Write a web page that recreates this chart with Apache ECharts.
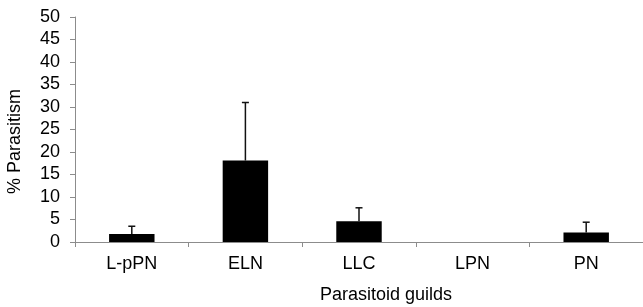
<!DOCTYPE html>
<html>
<head>
<meta charset="utf-8">
<script src="https://cdn.jsdelivr.net/npm/echarts@6/dist/echarts.min.js"></script>
<style>
  html, body { margin: 0; padding: 0; background: #fff; }
  #main { width: 643px; height: 307px; }
</style>
</head>
<body>
<div id="main"></div>
<script>
const categories = ['L-pPN', 'ELN', 'LLC', 'LPN', 'PN']
const parasitism = [1.8, 18.1, 4.6, 0, 2.1]
const errUpper = [1.7, 12.9, 3.0, 0, 2.3]
const yTicks = { min: 0, max: 50, interval: 5 }

const axisGrey = '#8c8c8c'
const font = 'Liberation Sans, Arial, sans-serif'

const errData = categories.map((c, i) => [i, parasitism[i], parasitism[i] + errUpper[i]])

const option = {
  animation: false,
  grid: { left: 75, right: 0, top: 17, bottom: 65, outerBoundsMode: 'none' },
  xAxis: {
    type: 'category',
    data: categories,
    name: 'Parasitoid guilds',
    nameLocation: 'middle',
    nameGap: 44,
    // title sits a bit right of the plot centre
    nameTextStyle: { fontSize: 18, color: '#000', fontFamily: font, verticalAlign: 'top', padding: [0, 0, 0, 54] },
    axisLine: { lineStyle: { color: axisGrey, width: 1 } },
    axisTick: { show: true, length: 5, lineStyle: { color: axisGrey } },
    axisLabel: { fontSize: 18, color: '#000', fontFamily: font, margin: 13 }
  },
  yAxis: {
    type: 'value',
    min: yTicks.min,
    max: yTicks.max,
    interval: yTicks.interval,
    name: '% Parasitism',
    nameLocation: 'middle',
    nameGap: 51,
    nameTextStyle: { fontSize: 18, color: '#000', fontFamily: font, padding: [0, 24, 0, 0] },
    axisLine: { show: true, lineStyle: { color: axisGrey, width: 1 } },
    axisTick: { show: true, length: 5, lineStyle: { color: axisGrey } },
    splitLine: { show: false },
    axisLabel: { fontSize: 18, color: '#000', fontFamily: font, margin: 15 }
  },
  series: [
    {
      name: 'Parasitism',
      type: 'bar',
      data: parasitism,
      barWidth: '40%',
      itemStyle: { color: '#000' }
    },
    {
      name: 'SE',
      type: 'custom',
      data: errData,
      z: 3,
      renderItem: (params, api) => {
        if (api.value(2) <= api.value(1)) return null
        const base = api.coord([api.value(0), api.value(1)])
        const top = api.coord([api.value(0), api.value(2)])
        const cap = 3.5
        const style = { stroke: '#111', lineWidth: 1.5 }
        return {
          type: 'group',
          children: [
            { type: 'line', shape: { x1: base[0], y1: base[1], x2: top[0], y2: top[1] }, style },
            { type: 'line', shape: { x1: top[0] - cap, y1: top[1], x2: top[0] + cap, y2: top[1] }, style }
          ]
        }
      }
    }
  ]
}

const myChart = echarts.init(document.getElementById('main'))
option && myChart.setOption(option)
</script>
</body>
</html>
